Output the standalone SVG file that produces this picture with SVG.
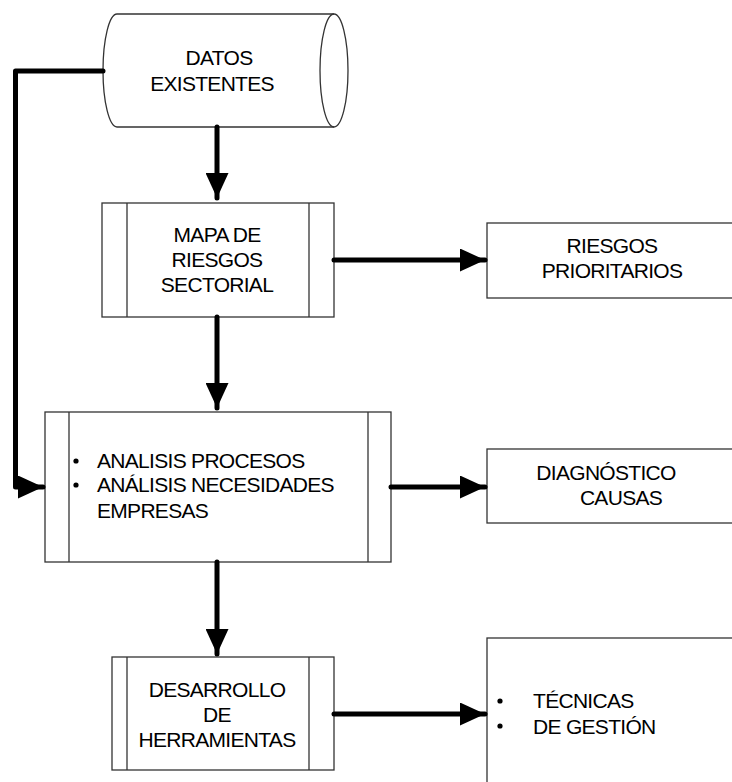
<svg xmlns="http://www.w3.org/2000/svg" width="732" height="782" viewBox="0 0 732 782">
<defs>
<style>
.box{fill:#fff;stroke:#333;stroke-width:1.3}
.in{stroke:#333;stroke-width:1.3;fill:none}
.t{font-family:"Liberation Sans",Arial,sans-serif;font-size:21px;fill:#000;letter-spacing:-0.7px}
.c{text-anchor:middle}
.con{fill:none;stroke:#000;stroke-width:5;stroke-linejoin:round;stroke-linecap:round}
</style>
<marker id="ah" viewBox="0 0 25 23" refX="25" refY="11.5" markerWidth="25" markerHeight="23" markerUnits="userSpaceOnUse" orient="auto">
<path d="M0,0 L25,11.5 L0,23 Z" fill="#000"/>
</marker>
</defs>
<rect width="732" height="782" fill="#fff"/>
<g id="datos">
<path class="box" d="M117,14 L334,14 A14,56.5 0 0 1 334,127 L117,127 A14,56.5 0 0 1 117,14 Z"/>
<path class="in" d="M334,14 A14,56.5 0 0 0 334,127"/>
<text class="t c" x="219" y="65">DATOS</text>
<text class="t c" x="212" y="91">EXISTENTES</text>
</g>
<g id="mapa">
<rect class="box" x="102" y="203" width="232" height="114"/>
<line class="in" x1="127" y1="203" x2="127" y2="317"/>
<line class="in" x1="309" y1="203" x2="309" y2="317"/>
<text class="t c" x="217" y="242">MAPA DE</text>
<text class="t c" x="217" y="267">RIESGOS</text>
<text class="t c" x="217" y="292">SECTORIAL</text>
</g>
<g id="riesgos">
<rect class="box" x="487" y="223" width="270" height="75"/>
<text class="t c" x="612" y="253">RIESGOS</text>
<text class="t c" x="612" y="278">PRIORITARIOS</text>
</g>
<g id="analisis">
<rect class="box" x="45" y="412" width="346" height="150"/>
<line class="in" x1="69" y1="412" x2="69" y2="562"/>
<line class="in" x1="368" y1="412" x2="368" y2="562"/>
<circle cx="76" cy="461" r="2.6" fill="#000"/>
<circle cx="76" cy="485" r="2.6" fill="#000"/>
<text class="t" x="97" y="468">ANALISIS PROCESOS</text>
<text class="t" x="97" y="492">ANÁLISIS NECESIDADES</text>
<text class="t" x="97" y="518">EMPRESAS</text>
</g>
<g id="diagnostico">
<rect class="box" x="487" y="449" width="270" height="74"/>
<text class="t c" x="606" y="480">DIAGNÓSTICO</text>
<text class="t c" x="621" y="505">CAUSAS</text>
</g>
<g id="desarrollo">
<rect class="box" x="112" y="657" width="222" height="113"/>
<line class="in" x1="127" y1="657" x2="127" y2="770"/>
<line class="in" x1="309" y1="657" x2="309" y2="770"/>
<text class="t c" x="217" y="697">DESARROLLO</text>
<text class="t c" x="217" y="722">DE</text>
<text class="t c" x="217" y="747">HERRAMIENTAS</text>
</g>
<g id="tecnicas">
<rect class="box" x="487" y="638" width="270" height="170"/>
<circle cx="500" cy="701" r="2.6" fill="#000"/>
<circle cx="500" cy="726" r="2.6" fill="#000"/>
<text class="t" x="533" y="708">TÉCNICAS</text>
<text class="t" x="533" y="734">DE GESTIÓN</text>
</g>
<g id="connectors">
<path class="con" d="M217,127 L217,198" marker-end="url(#ah)"/>
<path class="con" d="M334,260 L485,260" marker-end="url(#ah)"/>
<path class="con" d="M217,317 L217,408" marker-end="url(#ah)"/>
<path class="con" d="M103,71 L15.5,71 L15.5,487 L43,487" marker-end="url(#ah)"/>
<path class="con" d="M391,487 L485,487" marker-end="url(#ah)"/>
<path class="con" d="M217,562 L217,654" marker-end="url(#ah)"/>
<path class="con" d="M334,714 L485,714" marker-end="url(#ah)"/>
</g>
</svg>
